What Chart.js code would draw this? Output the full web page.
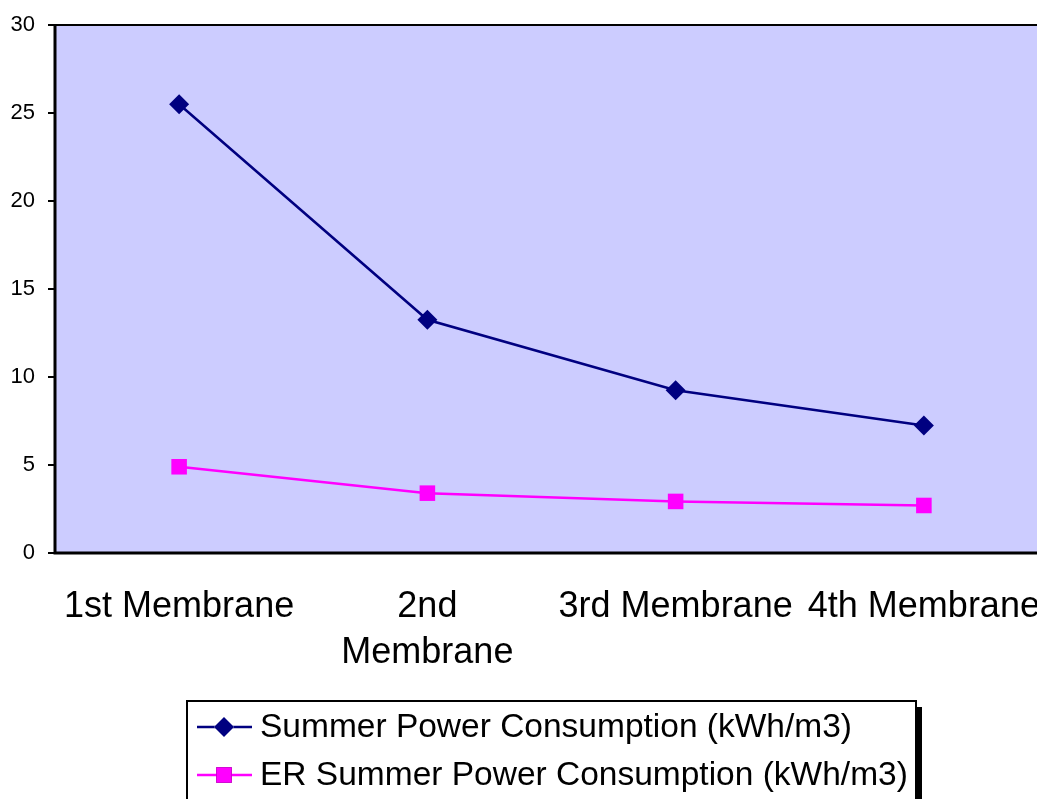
<!DOCTYPE html>
<html>
<head>
<meta charset="utf-8">
<script src="https://cdn.jsdelivr.net/npm/chart.js@4.4.0/dist/chart.umd.min.js"></script>
<style>
  html, body { margin: 0; padding: 0; overflow: hidden; background: #fff; }
  #wrap { width: 1060px; height: 799px; position: relative; }
</style>
</head>
<body>
<div id="wrap"><canvas id="chartId"></canvas></div>
<script>
var categories = ['1st Membrane', ['2nd', 'Membrane'], '3rd Membrane', '4th Membrane'];
var summerPower = [25.5, 13.25, 9.25, 7.25];
var erSummerPower = [4.9, 3.4, 2.93, 2.7];
var yTicks = [0, 5, 10, 15, 20, 25, 30];

var seriesNames = ['Summer Power Consumption (kWh/m3)', 'ER Summer Power Consumption (kWh/m3)'];

Chart.defaults.font.family = '"Liberation Sans", Arial, sans-serif';
Chart.defaults.color = '#000';

// plot background and frame, like the old spreadsheet look
var plotFrame = {
    id: 'plotFrame',
    beforeDraw: function(chart) {
        var ctx = chart.ctx;
        var a = chart.chartArea;
        ctx.save();
        ctx.fillStyle = '#CCCCFF';
        ctx.fillRect(a.left, a.top, a.right - a.left, a.bottom - a.top);
        ctx.restore();
    },
    afterDraw: function(chart) {
        var ctx = chart.ctx;
        var a = chart.chartArea;
        ctx.save();
        ctx.strokeStyle = '#000';
        ctx.lineWidth = 2;
        ctx.beginPath();
        ctx.moveTo(a.left, a.top);
        ctx.lineTo(a.right, a.top);
        ctx.stroke();
        ctx.lineWidth = 3;
        ctx.beginPath();
        ctx.moveTo(a.left, a.top - 1);
        ctx.lineTo(a.left, a.bottom);
        ctx.lineTo(a.right, a.bottom);
        ctx.stroke();
        ctx.restore();
    }
};

// boxed legend with a drop shadow
var boxLegend = {
    id: 'boxLegend',
    afterDraw: function(chart) {
        var ctx = chart.ctx;
        var left = 187, top = 701, right = 916, bottom = 820;
        ctx.save();
        ctx.fillStyle = '#000';
        ctx.fillRect(right, top + 6, 6, bottom - top);
        ctx.fillStyle = '#fff';
        ctx.fillRect(left, top, right - left, bottom - top);
        ctx.strokeStyle = '#000';
        ctx.lineWidth = 2;
        ctx.strokeRect(left, top, right - left, bottom - top);
        ctx.font = '33.5px "Liberation Sans", Arial, sans-serif';
        ctx.textBaseline = 'middle';
        chart.data.datasets.forEach(function(ds, i) {
            var y = 727 + i * 48;
            ctx.strokeStyle = ds.borderColor;
            ctx.lineWidth = 2.5;
            ctx.beginPath();
            ctx.moveTo(197, y);
            ctx.lineTo(252, y);
            ctx.stroke();
            Chart.helpers.drawPoint(ctx, {
                pointStyle: ds.pointStyle,
                radius: ds.pointRadius,
                borderWidth: 0
            }, 224, y);
            ctx.fillStyle = ds.pointBackgroundColor;
            ctx.fill();
            ctx.fillStyle = '#000';
            ctx.fillText(ds.label, 260, y + 1);
        });
        ctx.restore();
    }
};

var chartId = new Chart(document.getElementById('chartId').getContext('2d'), {
    type: 'line',
    data: {
        labels: categories,
        datasets: [{
            label: seriesNames[0],
            data: summerPower,
            borderColor: '#000080',
            backgroundColor: '#000080',
            pointBackgroundColor: '#000080',
            pointBorderColor: '#000080',
            borderWidth: 2.5,
            pointStyle: 'rectRot',
            pointRadius: 10,
            pointBorderWidth: 0,
            tension: 0
        }, {
            label: seriesNames[1],
            data: erSummerPower,
            borderColor: '#FF00FF',
            backgroundColor: '#FF00FF',
            pointBackgroundColor: '#FF00FF',
            pointBorderColor: '#FF00FF',
            borderWidth: 2.5,
            pointStyle: 'rect',
            pointRadius: 11,
            pointBorderWidth: 0,
            tension: 0
        }]
    },
    options: {
        responsive: true,
        maintainAspectRatio: false,
        animation: false,
        layout: { padding: { top: 25, right: 12, left: 0, bottom: 0 } },
        plugins: {
            legend: { display: false },
            tooltip: { enabled: false }
        },
        scales: {
            x: {
                offset: true,
                grid: { display: false, drawTicks: false },
                border: { display: false },
                ticks: {
                    font: { size: 36, lineHeight: 1.28 },
                    color: '#000',
                    padding: 31,
                    maxRotation: 0,
                    autoSkip: false
                },
                afterFit: function(scale) {
                    scale.height = 246;
                    scale.paddingLeft = 0;
                    scale.paddingRight = 0;
                }
            },
            y: {
                min: 0,
                max: 30,
                afterBuildTicks: function(scale) {
                    scale.ticks = yTicks.map(function(v) { return { value: v }; });
                },
                grid: {
                    drawOnChartArea: false,
                    drawTicks: true,
                    tickLength: 7,
                    color: '#000',
                    lineWidth: 2
                },
                border: { display: false },
                ticks: {
                    font: { size: 22 },
                    color: '#000',
                    padding: 13
                },
                afterFit: function(scale) {
                    scale.width = 55;
                    scale.paddingTop = 0;
                    scale.paddingBottom = 0;
                }
            }
        }
    },
    plugins: [plotFrame, boxLegend]
});
</script>
</body>
</html>
